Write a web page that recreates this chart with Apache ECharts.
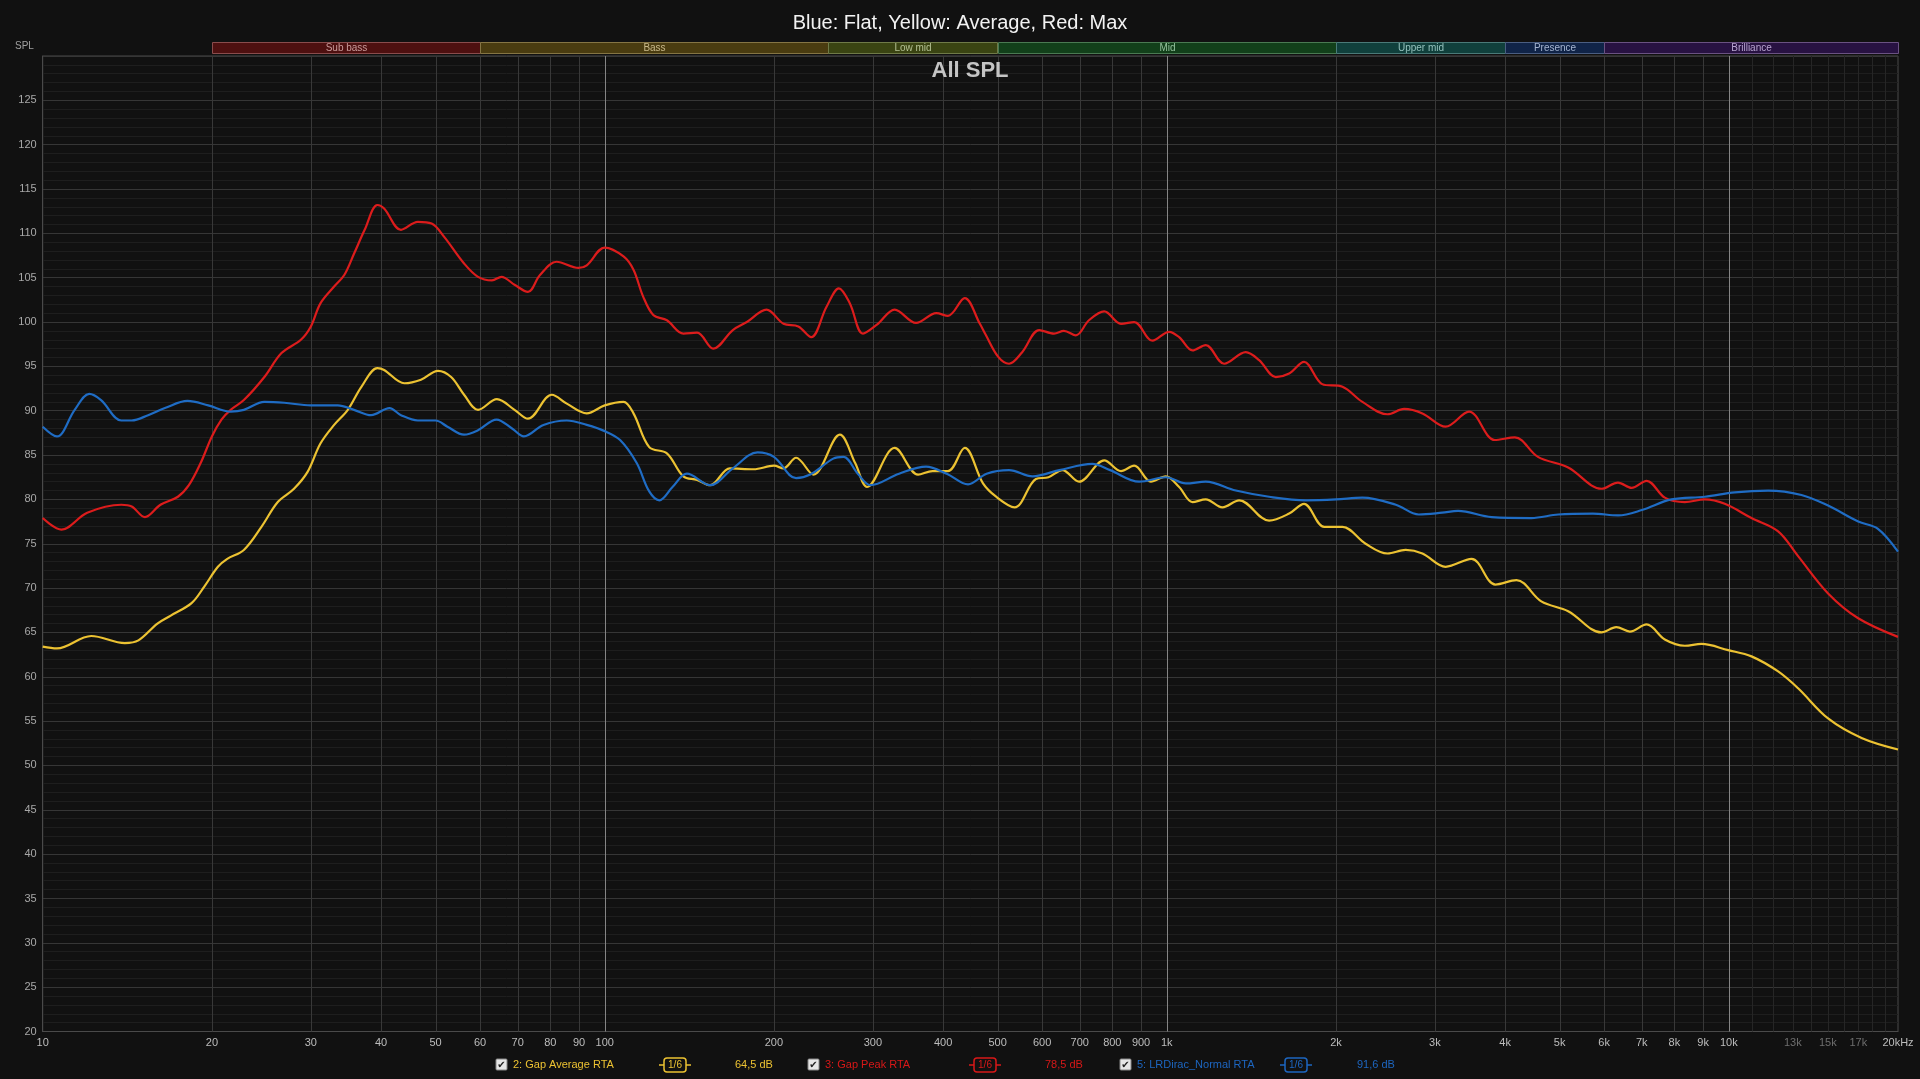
<!DOCTYPE html>
<html><head><meta charset="utf-8">
<script src="https://cdn.jsdelivr.net/npm/echarts@6/dist/echarts.min.js"></script>
<style>html,body{margin:0;padding:0;background:#111111;overflow:hidden}#c{width:1920px;height:1079px}</style>
</head><body><div id="c"></div>
<script>
// ---------------- data ----------------
const redFreq = [10,10.8,12,13.8,14.4,15.2,16.2,17.4,18.2,19.1,20,20.8,21.6,22.8,24.8,26.6,28.8,30,31.2,33,34.4,35.8,37.4,39.4,40.5,43.4,46.5,49.2,51.8,56.2,59.5,63,65.5,69.1,73,76.7,82.1,89.8,92.9,100,108,112.5,117,122,129,138,146,156,169,179,194,208,221,233,248,261,273,288,305,328,358,389,408,437,465,476,501,524,553,593,630,656,689,727,774,829,875,943,1010,1052,1111,1173,1265,1382,1460,1563,1651,1755,1890,2054,2229,2470,2644,2850,3134,3450,3834,4162,4575,5178,5936,6352,6713,7141,7694,8350,9063,9837,10973,12240,13282,15019,16991,20000];
const redDb   = [77.9,76.6,78.5,79.4,79.2,78.0,79.4,80.3,81.6,84.1,87.1,89.0,90.1,91.2,93.8,96.5,98.0,99.5,102.1,104.0,105.3,107.7,110.4,113.2,112.8,110.4,111.3,111.1,109.6,106.6,105.1,104.7,105.1,104.2,103.4,105.3,106.8,106.1,106.4,108.4,107.4,105.9,102.9,100.8,100.2,98.7,98.8,97.0,99.1,100.0,101.4,99.8,99.5,98.3,101.7,103.8,102.1,98.7,99.7,101.4,99.9,101.0,100.7,102.7,99.8,98.6,96.1,95.3,96.6,99.1,98.7,99.0,98.5,100.2,101.2,99.8,100.0,97.9,98.9,98.3,96.8,97.4,95.3,96.6,95.7,93.8,94.2,95.5,93.0,92.7,91.0,89.6,90.2,89.7,88.2,89.9,86.7,87.0,84.8,83.6,81.2,81.9,81.3,82.1,80.2,79.7,80.0,79.5,77.9,76.4,73.6,69.4,66.6,64.5];

const yellowFreq = [10,10.6,12.2,14,14.8,16,16.9,18.4,19.4,20.5,21.3,22.8,24.5,26.2,28,29.6,31.2,33,34.9,36.9,39.4,40.5,44,47.1,50.5,53.3,56.2,59.5,64.3,69.1,73,80.5,85.6,92.9,100,108,112.5,120,129,138,146,154,167,184,200,208,219,235,262,279,293,328,361,383,408,437,471,497,536,585,616,652,698,774,829,875,937,996,1052,1111,1173,1256,1345,1521,1651,1755,1906,2054,2258,2470,2661,2850,3134,3485,3843,4190,4638,5178,5936,6307,6667,7141,7694,8350,8941,9973,10973,12240,13282,15019,17227,20000];
const yellowDb   = [63.4,63.2,64.6,63.8,64.1,66.0,66.9,68.3,70.2,72.4,73.3,74.3,76.9,79.7,81.2,83.1,86.3,88.4,90.1,92.7,94.8,94.6,93.1,93.5,94.5,93.8,91.8,90.1,91.3,90.1,89.1,91.8,90.8,89.7,90.6,91.0,89.7,85.9,85.2,82.6,82.2,81.6,83.5,83.4,83.8,83.5,84.7,82.8,87.3,84.1,81.4,85.8,82.8,83.2,83.2,85.8,81.8,80.3,79.1,82.3,82.5,83.3,82.0,84.4,83.2,83.8,82.0,82.6,81.4,79.7,80.0,79.1,79.9,77.6,78.4,79.5,76.9,76.9,75.0,73.9,74.3,73.9,72.4,73.3,70.4,70.9,68.5,67.4,65.0,65.6,65.1,65.9,64.2,63.5,63.7,63.0,62.3,60.6,58.7,55.3,53.1,51.8];

const blueFreq = [10,10.6,11.4,12.1,12.7,13.8,14.4,15.4,16.5,18.1,19.7,21.6,22.8,24.8,26.9,30,33.5,35.8,38.4,41.4,43.4,46.5,50,52.5,56.2,59.5,64.2,68.4,71.8,77.8,85.6,92.9,100,106.5,114,120,125.1,132,140,154,169,187,200,219,232,255,266,282,297,334,373,406,443,478,524,577,644,737,793,893,996,1081,1173,1327,1521,1768,2000,2229,2556,2808,3090,3298,3786,4451,4972,5729,6352,7003,7905,9063,10249,11751,13467,15019,16991,18400,20000];
const blueDb   = [88.2,87.1,90.1,91.9,91.2,88.9,88.9,89.5,90.3,91.1,90.6,89.9,90.1,91.0,90.9,90.6,90.6,90.1,89.5,90.3,89.5,88.9,88.9,88.2,87.3,87.8,89.0,88.0,87.1,88.4,88.9,88.4,87.7,86.7,84.1,80.9,79.9,81.4,82.9,81.6,83.5,85.3,84.8,82.4,82.8,84.6,84.8,82.9,81.6,82.9,83.7,82.9,81.7,82.9,83.3,82.6,83.3,84.0,83.3,82.0,82.5,81.8,82.0,81.0,80.3,79.9,80.0,80.2,79.4,78.3,78.5,78.7,78.0,77.9,78.3,78.4,78.2,78.8,80.0,80.3,80.8,81.0,80.5,79.3,77.5,76.7,74.1];

const xTickFreqs  = [10,20,30,40,50,60,70,80,90,100,200,300,400,500,600,700,800,900,1000,2000,3000,4000,5000,6000,7000,8000,9000,10000,13000,15000,17000,20000];
const xTickLabels = ['10','20','30','40','50','60','70','80','90','100','200','300','400','500','600','700','800','900','1k','2k','3k','4k','5k','6k','7k','8k','9k','10k','13k','15k','17k','20kHz'];
const dimTickLabels = ['13k','15k','17k'];

const gridFreqs   = [20,30,40,50,60,70,80,90,200,300,400,500,600,700,800,900,2000,3000,4000,5000,6000,7000,8000,9000];
const decadeFreqs = [100,1000,10000];
const fineFreqs   = [11000,12000,13000,14000,15000,16000,17000,18000,19000];

const bandNames = ['Sub bass','Bass','Low mid','Mid','Upper mid','Presence','Brilliance'];
const bandEdges = [20,60,250,500,2000,4000,6000,20000];

const legendNames  = ['2: Gap Average RTA','3: Gap Peak RTA','5: LRDirac_Normal RTA'];
const legendLevels = ['64,5 dB','78,5 dB','91,6 dB'];

const yMin = 20, yMax = 130, yStep = 5;
const fMin = 10, fMax = 20000;

// ---------------- styles ----------------
const C_RED = '#dc1c1c', C_YEL = '#ecc232', C_BLUE = '#1f6cc4';
const bandFill   = ['#4e1010','#4a3c10','#3a4412','#12401a','#10403c','#102448','#281242'];
const bandStroke = ['#8a4c4c','#857544','#6f7a48','#4a7a52','#4a7a78','#4a5e82','#6a5282'];
const bandText   = ['#c89a9a','#c8b88a','#b4c094','#94c09c','#94c0bc','#a4b4d0','#b8a4d0'];
const FONT = '"Liberation Sans Narrow","Liberation Sans",Arial,sans-serif';

const L = Math.log10;
const toPts = (fs, vs) => fs.map((f, i) => [L(f), vs[i]]);

const vLines = [];
gridFreqs.forEach(f => vLines.push([L(f), yMin, 0]));
decadeFreqs.forEach(f => vLines.push([L(f), yMin, 1]));
fineFreqs.forEach(f => vLines.push([L(f), yMin, 2]));
const vLineColors = ['#383838', '#858585', '#262626'];

const bandData = bandNames.map((n, i) => [L(bandEdges[i]), L(bandEdges[i + 1]), i]);

function labelFor(v) {
  for (let i = 0; i < xTickFreqs.length; i++) {
    if (Math.abs(L(xTickFreqs[i]) - v) < 1e-6) {
      const t = xTickLabels[i];
      return dimTickLabels.indexOf(t) >= 0 ? '{d|' + t + '}' : t;
    }
  }
  return '';
}

// legend graphics (layout only)
const legendColors = [C_YEL, '#d81818', '#1d66c0'];
const legendX = [[496, 513, 675, 735], [808, 825, 985, 1045], [1120, 1137, 1296, 1357]];
const legendY = 1065;
const legendGraphics = [];
legendNames.forEach((n, i) => {
  const [cx, tx, bx, lx] = legendX[i];
  const col = legendColors[i];
  legendGraphics.push(
    { type: 'rect', z: 100, shape: { x: cx, y: legendY - 6, width: 11, height: 11, r: 1 }, style: { fill: '#e6e6e6', stroke: '#888', lineWidth: 1 } },
    { type: 'text', z: 101, x: cx + 5.5, y: legendY, style: { text: '✔', fill: '#222', align: 'center', verticalAlign: 'middle', font: 'bold 10px "DejaVu Sans"' } },
    { type: 'text', z: 100, x: tx, y: legendY, style: { text: n, fill: col, font: '11px ' + FONT, verticalAlign: 'middle' } },
    { type: 'line', z: 100, shape: { x1: bx - 16, y1: legendY, x2: bx - 11, y2: legendY }, style: { stroke: col, lineWidth: 1.5 } },
    { type: 'line', z: 100, shape: { x1: bx + 11, y1: legendY, x2: bx + 16, y2: legendY }, style: { stroke: col, lineWidth: 1.5 } },
    { type: 'rect', z: 100, shape: { x: bx - 11, y: legendY - 7, width: 22, height: 14, r: 3 }, style: { fill: '#111', stroke: col, lineWidth: 1.5 } },
    { type: 'text', z: 101, x: bx, y: legendY, style: { text: '1/6', fill: col, font: '10px ' + FONT, align: 'center', verticalAlign: 'middle' } },
    { type: 'text', z: 100, x: lx, y: legendY, style: { text: legendLevels[i], fill: col, font: '11px ' + FONT, verticalAlign: 'middle' } }
  );
});

const chart = echarts.init(document.getElementById('c'), null, { renderer: 'canvas' });
chart.setOption({
  backgroundColor: '#111111',
  animation: false,
  title: {
    text: 'Blue: Flat, Yellow: Average, Red: Max',
    left: 'center', top: 8,
    textStyle: { color: '#f2f2f2', fontSize: 20, fontWeight: 'normal', fontFamily: '"Liberation Sans",Arial,sans-serif' }
  },
  grid: [
    { left: 42.7, right: 22, top: 56, bottom: 47.5, show: true, borderColor: '#4a4a4a', borderWidth: 1, backgroundColor: 'transparent' },
    { left: 42.7, right: 22, top: 41.5, height: 11 }
  ],
  xAxis: [
    {
      type: 'value', gridIndex: 0, min: L(fMin), max: L(fMax),
      axisLine: { show: true, lineStyle: { color: '#4a4a4a' } },
      axisTick: { show: false },
      splitLine: { show: false },
      axisLabel: {
        customValues: xTickFreqs.map(L),
        formatter: labelFor,
        color: '#bdbdbd', fontSize: 11, fontFamily: FONT, margin: 6,
        rich: { d: { color: '#6e6e6e', fontSize: 11, fontFamily: FONT } }
      }
    },
    { type: 'value', gridIndex: 1, min: L(fMin), max: L(fMax), show: false }
  ],
  yAxis: [
    {
      type: 'value', gridIndex: 0, min: yMin, max: yMax, interval: yStep,
      axisLine: { show: true, lineStyle: { color: '#4a4a4a' } },
      axisTick: { show: false },
      axisLabel: { color: '#a8a8a8', fontSize: 11, fontFamily: FONT, margin: 6, formatter: v => (v === yMax ? '' : String(v)) },
      splitLine: { show: true, lineStyle: { color: '#363636', width: 1 } },
      minorTick: { show: false, splitNumber: 5 },
      minorSplitLine: { show: true, lineStyle: { color: '#1e1e1e', width: 1 } }
    },
    { type: 'value', gridIndex: 1, min: 0, max: 1, show: false }
  ],
  graphic: [
    { type: 'text', z: 100, x: 15, y: 46, style: { text: 'SPL', fill: '#a0a0a0', font: '10px ' + FONT, verticalAlign: 'middle' } },
    { type: 'text', z: 100, x: 970, y: 71, style: { text: 'All SPL', fill: '#c4c4c4', font: 'bold 22px "Liberation Sans",Arial,sans-serif', align: 'center', verticalAlign: 'middle' } },
    ...legendGraphics
  ],
  series: [
    {
      type: 'custom', name: 'vgrid', xAxisIndex: 0, yAxisIndex: 0, z: 1, silent: true, clip: false,
      encode: { x: 0, y: 1 },
      data: vLines,
      renderItem: function (params, api) {
        const p0 = api.coord([api.value(0), yMin]);
        const p1 = api.coord([api.value(0), yMax]);
        const x = Math.round(p0[0]) + 0.5;
        return { type: 'line', shape: { x1: x, y1: p0[1], x2: x, y2: p1[1] }, style: { stroke: vLineColors[api.value(2)], lineWidth: 1 } };
      }
    },
    {
      type: 'custom', name: 'bands', xAxisIndex: 1, yAxisIndex: 1, z: 3, silent: true, clip: false,
      encode: { x: [0, 1] },
      data: bandData,
      renderItem: function (params, api) {
        const i = api.value(2);
        const s = api.coord([api.value(0), 1]);
        const e = api.coord([api.value(1), 0]);
        return {
          type: 'rect',
          shape: { x: Math.round(s[0]) + 0.5, y: Math.round(s[1]) + 0.5, width: Math.round(e[0] - s[0]), height: Math.round(e[1] - s[1]) },
          style: { fill: bandFill[i], stroke: bandStroke[i], lineWidth: 1 },
          textContent: { style: { text: bandNames[i], fill: bandText[i], font: '10px ' + FONT } },
          textConfig: { position: 'inside' }
        };
      }
    },
    { type: 'line', name: 'Average', data: toPts(yellowFreq, yellowDb), showSymbol: false, smooth: 0.35, z: 4, lineStyle: { color: C_YEL, width: 2.2 }, itemStyle: { color: C_YEL } },
    { type: 'line', name: 'Max', data: toPts(redFreq, redDb), showSymbol: false, smooth: 0.35, z: 5, lineStyle: { color: C_RED, width: 2.2 }, itemStyle: { color: C_RED } },
    { type: 'line', name: 'Flat', data: toPts(blueFreq, blueDb), showSymbol: false, smooth: 0.35, z: 6, lineStyle: { color: C_BLUE, width: 2.2 }, itemStyle: { color: C_BLUE } }
  ]
});
</script></body></html>
